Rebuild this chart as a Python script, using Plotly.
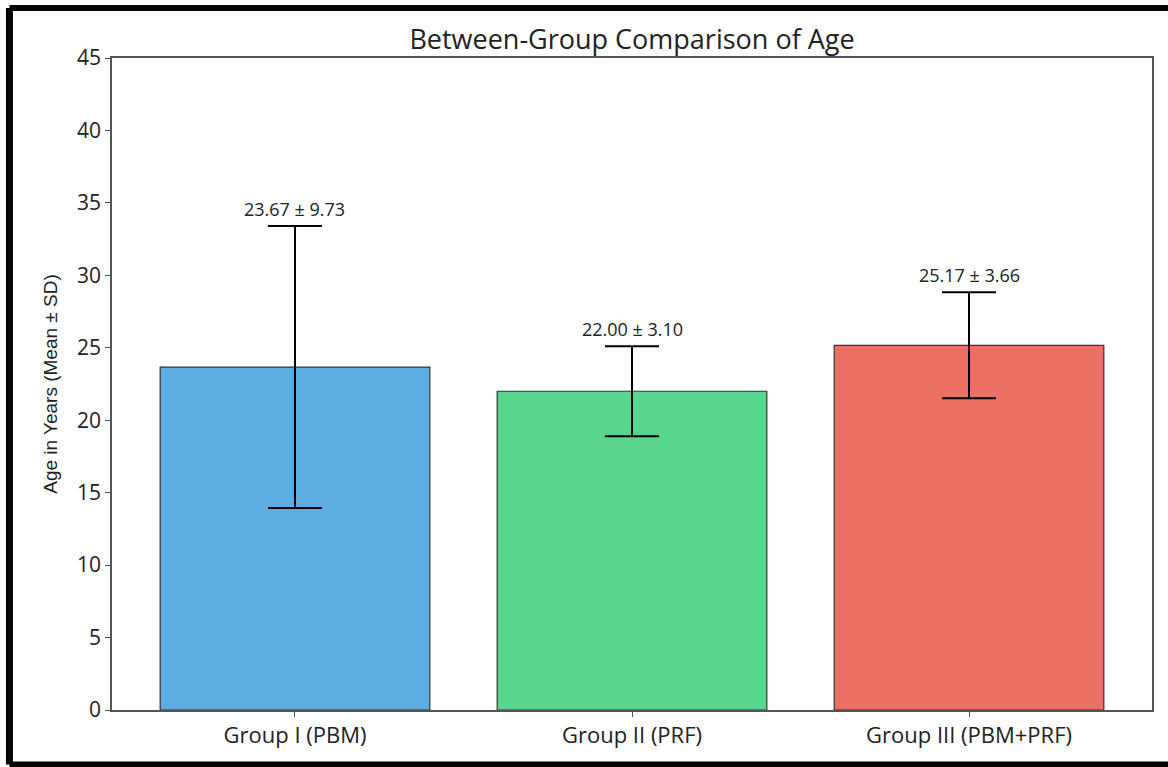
import plotly.graph_objects as go

groups = ["Group I (PBM)", "Group II (PRF)", "Group III (PBM+PRF)"]
means = [23.67, 22.00, 25.17]
sds = [9.73, 3.10, 3.66]
colors = ["#5DADE2", "#58D68D", "#EC7063"]
labels = [f"{m:.2f} ± {s:.2f}" for m, s in zip(means, sds)]

FONT = "Open Sans, sans-serif"
YFONT = "Liberation Sans, Arial, sans-serif"

fig = go.Figure()
fig.add_trace(go.Bar(
    x=list(range(len(groups))), y=means,
    width=0.8,
    marker=dict(color=colors, line=dict(color="#333333", width=1.2)),
    error_y=dict(type="data", array=sds, visible=True, color="black", thickness=2, width=27),
    showlegend=False,
))

for i, (m, s, lab) in enumerate(zip(means, sds, labels)):
    fig.add_annotation(x=i, y=m + s, text=lab, showarrow=False, yanchor="bottom", yshift=3,
                       font=dict(family=FONT, size=18, color="#222222"))

fig.update_layout(
    width=1168, height=767,
    margin=dict(l=112, r=16, t=58, b=57),
    paper_bgcolor="white", plot_bgcolor="white",
    title=dict(text="Between-Group Comparison of Age", x=(112 + 1152) / 2 / 1168, xanchor="center",
               y=1 - 40 / 767, yanchor="middle", font=dict(family=FONT, size=27, color="#222222")),
    font=dict(family=FONT, color="#222222"),
)
fig.update_xaxes(
    tickmode="array", tickvals=list(range(len(groups))), ticktext=groups,
    range=[-0.543, 2.543], showline=True, linecolor="#555555", linewidth=1.5, mirror=True,
    ticks="outside", ticklen=5, tickcolor="#555555", tickfont=dict(size=22, family=FONT), showgrid=False,
)
fig.update_yaxes(
    range=[0, 45], dtick=5, showline=True, linecolor="#555555", linewidth=1.5, mirror=True,
    ticks="outside", ticklen=5, tickcolor="#555555", tickfont=dict(size=21, family=FONT), showgrid=False,
    zeroline=False,
    title=dict(text="Age in Years (Mean ± SD)", font=dict(size=19, family=YFONT), standoff=14),
)

# outer black frame of the picture
fig.add_shape(type="line", xref="paper", yref="paper", x0=-0.0986, x1=-0.0986, y0=-0.0836, y1=1.0767,
              line=dict(color="black", width=7))
fig.add_shape(type="line", xref="paper", yref="paper", x0=-0.0986, x1=1.03, y0=1.0767, y1=1.0767,
              line=dict(color="black", width=6))
fig.add_shape(type="line", xref="paper", yref="paper", x0=-0.0986, x1=1.03, y0=-0.0836, y1=-0.0836,
              line=dict(color="black", width=6))

fig.write_html("out.html", config={"displayModeBar": False},
               post_script="document.body.style.margin='0';document.body.style.overflow='hidden';")
